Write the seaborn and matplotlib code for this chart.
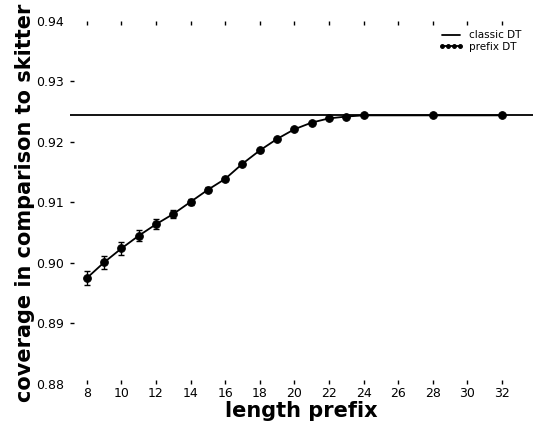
import numpy as np
import pandas as pd
import matplotlib
matplotlib.use('Agg')
import matplotlib.pyplot as plt
import seaborn as sns

# values
prefix_len = [8, 9, 10, 11, 12, 13, 14, 15, 16, 17, 18, 19, 20, 21, 22, 23, 24, 28, 32]
coverage = [0.8975, 0.9001, 0.9024, 0.9045, 0.9064, 0.9081, 0.9101, 0.9121, 0.9139,
            0.9164, 0.9186, 0.9205, 0.9221, 0.9232, 0.9239, 0.9242, 0.9244, 0.9244, 0.9244]
coverage_err = [0.0011, 0.0011, 0.0010, 0.00094, 0.0008, 0.0007, 0.0005, 0.0004, 0.0003,
                0.0002, 0.0002, 0.0001, 0.0001, 0.0001, 0.0001, 0.0001, 0.0001, 0.0001, 0.0001]
classic_coverage = 0.9245
x_ticks = list(range(8, 33, 2))
y_ticks = [0.88, 0.89, 0.90, 0.91, 0.92, 0.93, 0.94]

df = pd.DataFrame({'length prefix': prefix_len, 'coverage': coverage, 'err': coverage_err})

sns.set_style('white')
plt.rcParams['font.family'] = ['DejaVu Sans']
plt.rcParams['text.color'] = 'black'
plt.rcParams['axes.labelcolor'] = 'black'
plt.rcParams['xtick.color'] = 'black'
plt.rcParams['ytick.color'] = 'black'

fig = plt.figure(figsize=(5.33, 4.28), dpi=100)
ax = fig.add_axes([0.1304, 0.1028, 0.8696, 0.8482])

ax.axhline(classic_coverage, color='black', lw=1.3, label='classic DT')
ax.errorbar(df['length prefix'], df['coverage'], yerr=df['err'], fmt='none',
            ecolor='black', elinewidth=1.0, capsize=2.5, capthick=1.0)
sns.lineplot(data=df, x='length prefix', y='coverage', ax=ax, color='black',
             marker='o', markersize=5.5, markeredgecolor='black', lw=1.3,
             label='prefix DT')

ax.set_xlim(7, 33.8)
ax.set_ylim(0.88, 0.94)
ax.set_xticks(x_ticks)
ax.set_yticks(y_ticks)
ax.set_yticklabels([f'{v:.2f}' for v in y_ticks])
for s in ax.spines.values():
    s.set_visible(False)
ax.tick_params(axis='x', which='both', direction='in', length=3, width=1,
               top=True, bottom=True, pad=2, labelsize=9)
ax.tick_params(axis='y', which='both', direction='in', length=3, width=1,
               left=True, right=False, pad=4, labelsize=9)
yt = ax.yaxis.get_major_ticks()
yt[0].tick1line.set_visible(False)
yt[-1].tick1line.set_visible(False)

ax.set_xlabel('length prefix', fontsize=15, fontweight='bold', labelpad=1)
ax.set_ylabel('coverage in comparison to skitter', fontsize=15, fontweight='bold', labelpad=1)

ax.legend(loc='upper right', frameon=False, fontsize=7.5, numpoints=4, markerscale=0.5,
          handlelength=2.3, handletextpad=0.6, labelspacing=0.15,
          bbox_to_anchor=(0.995, 1.0))

fig.savefig('out.png', dpi=100)
